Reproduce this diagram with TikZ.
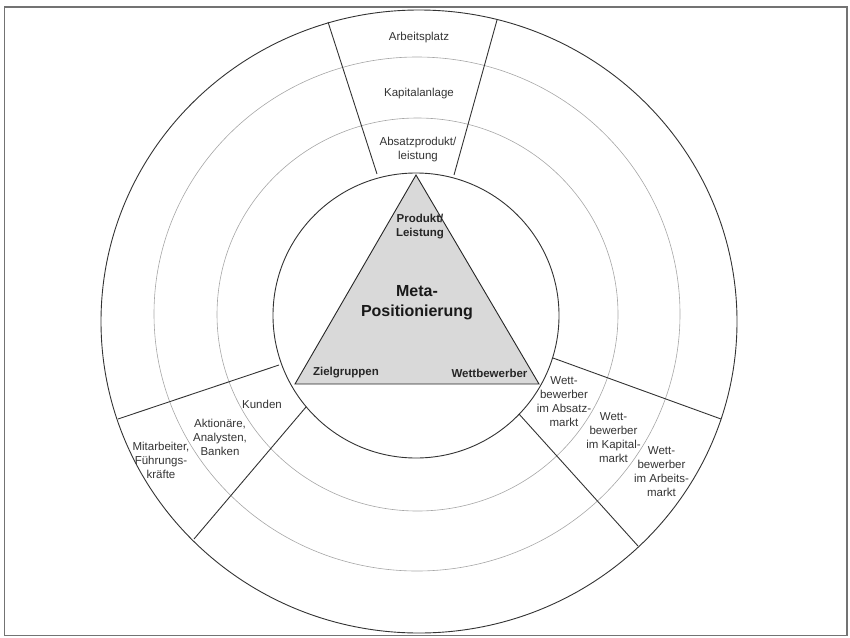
\documentclass[tikz,border=0pt]{standalone}
\usepackage{fontspec}
\setmainfont{Liberation Sans}
\begin{document}
\begin{tikzpicture}[x=1pt,y=-1pt,
  frame/.style={draw=black!55,line width=1.3pt},
  ring/.style={draw=black!80,line width=0.9pt},
  thinring/.style={draw=black!35,line width=0.6pt},
  divider/.style={draw=black!80,line width=0.9pt},
  lbl/.style={align=center,font=\fontsize{11.5}{14}\selectfont,text=black!80,inner sep=0pt},
  blbl/.style={align=center,font=\fontsize{11.5}{14}\selectfont\bfseries,text=black!85,inner sep=0pt}]
\useasboundingbox (0,0) rectangle (850,637);
\draw[frame] (4.5,7) rectangle (847,635.5);
% rings
\draw[ring] (419,321.5) ellipse [x radius=318pt, y radius=311.5pt];
\draw[thinring] (417,314) ellipse [x radius=263pt, y radius=257pt];
\draw[thinring] (417.5,314.5) ellipse [x radius=200.5pt, y radius=196.5pt];
\draw[ring,fill=white] (416,315.5) ellipse [x radius=143pt, y radius=142.5pt];
% triangle
\coordinate (apex) at (416,175);
\coordinate (bl) at (295,384);
\coordinate (br) at (539,384);
\draw[draw=black!85,line width=0.9pt,fill=black!15] (apex) -- (bl) -- (br) -- cycle;
% dividers
\coordinate (d1o) at (328,22);  \coordinate (d1i) at (377,174);
\coordinate (d2o) at (497,20);  \coordinate (d2i) at (454,175);
\coordinate (d3o) at (118,419); \coordinate (d3i) at (279,365);
\coordinate (d4o) at (194,539); \coordinate (d4i) at (306,407);
\coordinate (d5o) at (721,419); \coordinate (d5i) at (553,358);
\coordinate (d6o) at (638,546); \coordinate (d6i) at (519,414);
\draw[divider] (d1o) -- (d1i);
\draw[divider] (d2o) -- (d2i);
\draw[divider] (d3o) -- (d3i);
\draw[divider] (d4o) -- (d4i);
\draw[divider] (d5o) -- (d5i);
\draw[divider] (d6o) -- (d6i);
% top sector
\node[lbl] (arb) at (419,38) {Arbeitsplatz};
\node[lbl] (kap) at (419,94) {Kapitalanlage};
\node[lbl] (abs) at (418,150) {Absatzprodukt/\\leistung};
% triangle labels
\node[blbl] (prod) at (420,227) {Produkt/\\Leistung};
\node[align=center,font=\fontsize{16}{20}\selectfont\bfseries,text=black!90,inner sep=0pt] (meta) at (417,303) {Meta-\\Positionierung};
\node[blbl] (ziel) at (346,373) {Zielgruppen};
\node[blbl] (wett) at (489.5,373) {Wettbewerber};
% left sector
\node[lbl] (kun) at (262,404) {Kunden};
\node[lbl] (akt) at (220,437.5) {Aktionäre,\\Analysten,\\Banken};
\node[lbl] (mit) at (161,460.5) {Mitarbeiter,\\Führungs-\\kräfte};
% right sector
\node[lbl] (wa) at (564,402) {Wett-\\bewerber\\im Absatz-\\markt};
\node[lbl] (wk) at (613.5,437.5) {Wett-\\bewerber\\im Kapital-\\markt};
\node[lbl] (wr) at (661.5,472) {Wett-\\bewerber\\im Arbeits-\\markt};
\end{tikzpicture}
\end{document}
